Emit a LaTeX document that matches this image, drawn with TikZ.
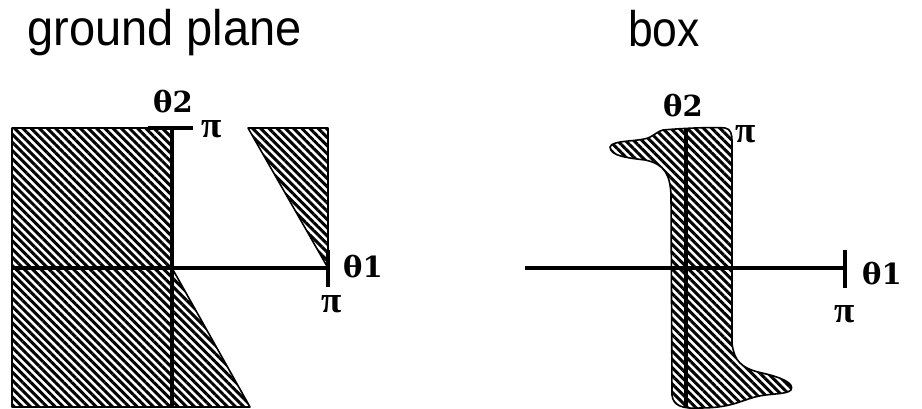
\documentclass[tikz,border=0pt]{standalone}
\usepackage{fontspec}
\setmainfont{Liberation Sans}
\newfontfamily\grk{DejaVu Serif}
\newfontfamily\grkpi{Liberation Serif}
\usetikzlibrary{patterns.meta}
\begin{document}
\begin{tikzpicture}[x=1pt,y=-1pt,
  hatch/.style={pattern={Lines[angle=-45,distance=5.8pt,line width=3pt]}, draw=black, line width=1.6pt, line join=round},
  axis/.style={line width=3.5pt},
  vaxis/.style={line width=4.5pt},
  glabel/.style={font=\grk\bfseries\fontsize{29}{29}\selectfont, inner sep=0pt},
  plabel/.style={font=\grkpi\bfseries\fontsize{37}{37}\selectfont, inner sep=0pt},
  title/.style={font=\fontsize{50}{50}\selectfont, inner sep=0pt, anchor=base}]
\useasboundingbox (0,0) rectangle (922,409);

% titles
\node[title] (t1) at (164.5,46) {\scalebox{0.94}[1]{ground plane}};
\node[title] (t2) at (664,47) {\scalebox{0.89}[1]{box}};

% ---------- left: ground plane ----------
\fill[hatch] (12,128) -- (172,128) -- (172,268) -- (250,407) -- (12,407) -- cycle;
\fill[hatch] (248,128) -- (328,128) -- (328,268) -- cycle;
\coordinate (lx0) at (12,268);
\coordinate (lx1) at (328,268);
\coordinate (ly0) at (172,407);
\coordinate (ly1) at (172,128);
\coordinate (lta) at (148,128);
\coordinate (ltb) at (193,128);
\coordinate (lxa) at (328,250);
\coordinate (lxb) at (328,287);
\draw[axis] (lx0) -- (lx1);
\draw[vaxis] (ly0) -- (ly1);
\draw[axis] (lta) -- (ltb);
\draw[axis] (lxa) -- (lxb);
\node[glabel] (lth2) at (173,102) {θ2};
\node[plabel] (lpi2) at (212,129) {π};
\node[glabel] (lth1) at (363,267) {θ1};
\node[plabel] (lpi1) at (332,304) {π};

% ---------- right: box ----------
\fill[hatch] (663,130)
  .. controls (685,128) and (715,127) .. (725,128)
  .. controls (731,129) and (732,134) .. (732,142)
  -- (732,343)
  .. controls (734,360) and (740,368) .. (762,373)
  .. controls (780,377) and (795,383) .. (791,390)
  .. controls (786,395) and (770,393) .. (755,397)
  .. controls (740,401) and (730,408) .. (700,408)
  .. controls (683,409) and (673,406) .. (672,395)
  -- (671,195)
  .. controls (670,175) and (665,164) .. (645,160)
  .. controls (628,158) and (610,156) .. (610,147)
  .. controls (612,140) and (635,142) .. (648,138)
  .. controls (655,135) and (658,131) .. (663,130) -- cycle;
\coordinate (rx0) at (525,268);
\coordinate (rx1) at (845,268);
\coordinate (ry0) at (686,407);
\coordinate (ry1) at (686,128);
\coordinate (rxa) at (845,250);
\coordinate (rxb) at (845,288);
\draw[axis] (rx0) -- (rx1);
\draw[vaxis] (ry0) -- (ry1);
\draw[axis] (rxa) -- (rxb);
\node[glabel] (rth2) at (683,106) {θ2};
\node[plabel] (rpi2) at (746,134) {π};
\node[glabel] (rth1) at (882,274) {θ1};
\node[plabel] (rpi1) at (845,314) {π};
\end{tikzpicture}
\end{document}
